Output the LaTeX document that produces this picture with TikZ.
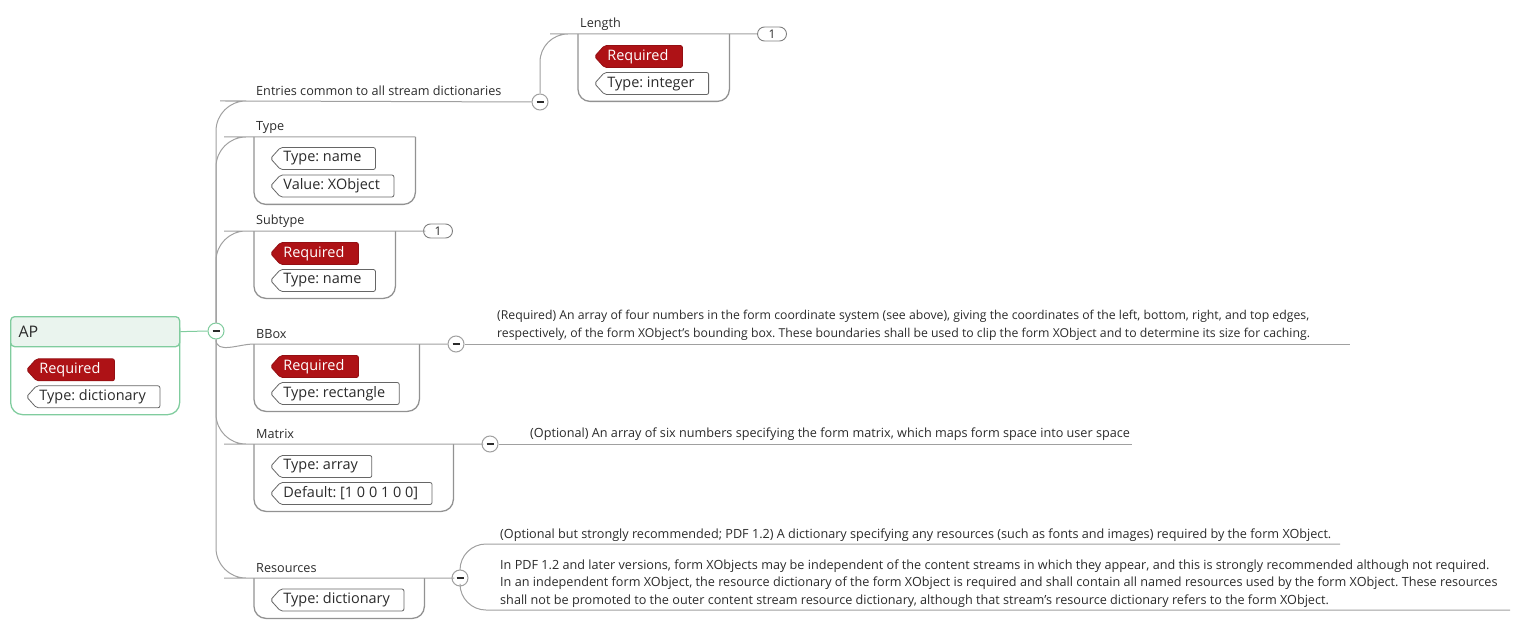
\documentclass[tikz,border=0pt]{standalone}
\usepackage{fontspec}
\setmainfont{Open Sans}
\usetikzlibrary{positioning, shapes.symbols}
\frenchspacing

\definecolor{linegray}{HTML}{A0A0A0}
\definecolor{boxgray}{HTML}{929292}
\definecolor{tagred}{HTML}{AE1216}
\definecolor{rootgreen}{HTML}{80CC9E}
\definecolor{headgreen}{HTML}{EAF4EE}
\definecolor{textgray}{HTML}{2B2B2B}

\tikzset{
  branch/.style={draw=linegray, line width=1bp},
  boxline/.style={draw=boxgray, line width=1.3bp},
  toggle/.style={circle, draw=linegray, fill=white, line width=1bp,
    minimum size=16bp, inner sep=0pt,
    path picture={\draw[textgray, line width=1.2bp]
      ([xshift=-3.5bp]path picture bounding box.center) --
      ([xshift=3.5bp]path picture bounding box.center);}},
  countpill/.style={draw=black!50, rounded corners=7bp, minimum width=29bp,
    minimum height=14bp, inner sep=0pt, line width=0.9bp, font=\fontsize{12}{13}\selectfont},
  fieldbox/.style={anchor=north west, inner sep=0pt},
  fieldlabel/.style={anchor=base west, inner sep=0pt},
  fieldtag/.style={signal, signal to=west, signal pointer angle=96, anchor=west,
    minimum height=22bp, inner xsep=3bp, inner ysep=0pt, rounded corners=2bp,
    draw=black!60, fill=white, line width=0.8bp, text=textgray,
    font=\fontsize{14.5}{16}\selectfont, execute at end node={\hspace{11bp}}},
  reqtag/.style={fieldtag, fill=tagred, draw=tagred!85!black, text=white},
  desc/.style={anchor=south west, inner sep=0pt, align=left},
}

\begin{document}
\begin{tikzpicture}[x=1bp, y=-1bp, font=\fontsize{12.7}{17.5}\selectfont, text=textgray]
  \useasboundingbox (0,0) rectangle (1517,641);

  % root
  \node[anchor=north west, minimum width=169bp, minimum height=98bp, inner sep=0pt,
        draw=rootgreen, line width=1.3bp, rounded corners=12bp] (apbox) at (10,316) {};
  \node[anchor=north west, minimum height=30bp, text width=153bp, inner xsep=8bp, inner ysep=0pt,
        draw=rootgreen, fill=headgreen, line width=1.3bp, rounded corners=4bp,
        font=\fontsize{16}{18}\selectfont] (ap) at (10,316) {AP};
  \node[reqtag] (apreq) at ([shift={(16,22.5)}]ap.south west) {Required};
  \node[fieldtag] (aptype) at ([shift={(16,49.5)}]ap.south west) {Type: dictionary};
  \node[toggle, draw=rootgreen] (aptog) at (216,331) {};
  \draw[draw=rootgreen, line width=1bp] (ap.east) -- (aptog.west);

  % field boxes
  \node[fieldbox, minimum width=151bp, minimum height=67bp] (lenbox) at (578,34) {};
  \node[fieldbox, minimum width=161bp, minimum height=67bp] (typebox) at (254,137) {};
  \node[fieldbox, minimum width=141bp, minimum height=67bp] (subbox) at (254,231) {};
  \node[fieldbox, minimum width=165bp, minimum height=67bp] (bboxbox) at (254,344) {};
  \node[fieldbox, minimum width=199bp, minimum height=67bp] (matbox) at (254,444) {};
  \node[fieldbox, minimum width=170bp, minimum height=40bp] (resbox) at (254,578) {};
  \foreach \b in {lenbox,typebox,subbox,bboxbox,matbox,resbox}
    \draw[boxline, rounded corners=12bp] (\b.north west) -- (\b.south west)
      -- (\b.south east) -- (\b.north east);

  \node[fieldlabel] (lenlabel) at ([shift={(2,-6.5)}]lenbox.north west) {Length};
  \node[fieldlabel] (typelabel) at ([shift={(2,-6)}]typebox.north west) {Type};
  \node[fieldlabel] (sublabel) at ([shift={(2,-6)}]subbox.north west) {Subtype};
  \node[fieldlabel] (bboxlabel) at ([shift={(2,-6)}]bboxbox.north west) {BBox};
  \node[fieldlabel] (matlabel) at ([shift={(2,-6)}]matbox.north west) {Matrix};
  \node[fieldlabel] (reslabel) at ([shift={(2,-6)}]resbox.north west) {Resources};

  % tags
  \node[reqtag] (lenreq) at ([shift={(16,22.5)}]lenbox.north west) {Required};
  \node[fieldtag] (lentype) at ([shift={(16,49.5)}]lenbox.north west) {Type: integer};
  \node[fieldtag] (typetype) at ([shift={(16,21.5)}]typebox.north west) {Type: name};
  \node[fieldtag] (typevalue) at ([shift={(16,49)}]typebox.north west) {Value: XObject};
  \node[reqtag] (subreq) at ([shift={(16,22.5)}]subbox.north west) {Required};
  \node[fieldtag] (subtype) at ([shift={(16,49.5)}]subbox.north west) {Type: name};
  \node[reqtag] (bboxreq) at ([shift={(16,22.5)}]bboxbox.north west) {Required};
  \node[fieldtag] (bboxtype) at ([shift={(16,49.5)}]bboxbox.north west) {Type: rectangle};
  \node[fieldtag] (mattype) at ([shift={(16,22.5)}]matbox.north west) {Type: array};
  \node[fieldtag] (matdefault) at ([shift={(16,49.5)}]matbox.north west) {Default: [1 0 0 1 0 0]};
  \node[fieldtag] (restype) at ([shift={(16,22)}]resbox.north west) {Type: dictionary};

  % toggles and counts
  \node[toggle] (commontog) at (540,102) {};
  \node[toggle] (bboxtog) at (456,344) {};
  \node[toggle] (mattog) at (490,444) {};
  \node[toggle] (restog) at (460,578) {};
  \node[countpill] (lenpill) at (772,34) {1};
  \node[countpill] (subpill) at (438,231) {1};

  % group label
  \coordinate (commonstart) at (250,101);
  \node[fieldlabel] (common) at ([shift={(6,-5)}]commonstart) {Entries common to all stream dictionaries};

  % descriptions
  \coordinate (bboxend) at (1350,344);
  \coordinate (matend) at (1132,444);
  \coordinate (resend1) at (1340,544);
  \coordinate (resend2) at (1510,610);
  \node[desc, font=\fontsize{12.3}{17.5}\selectfont] (bboxdesc) at (497,340.5) {(Required) An array of four numbers in the form coordinate system (see above), giving the coordinates of the left, bottom, right, and top edges,\\
    respectively, of the form XObject’s bounding box. These boundaries shall be used to clip the form XObject and to determine its size for caching.};
  \node[desc] (matdesc) at (530,441) {(Optional) An array of six numbers specifying the form matrix, which maps form space into user space};
  \node[desc] (resdesc1) at (500,541.5) {(Optional but strongly recommended; PDF 1.2) A dictionary specifying any resources (such as fonts and images) required by the form XObject.};
  \node[desc] (resdesc2) at (500,607.5) {In PDF 1.2 and later versions, form XObjects may be independent of the content streams in which they appear, and this is strongly recommended although not required.\\
    In an independent form XObject, the resource dictionary of the form XObject is required and shall contain all named resources used by the form XObject. These resources\\
    shall not be promoted to the outer content stream resource dictionary, although that stream’s resource dictionary refers to the form XObject.};

  % connectors
  \draw[branch, rounded corners=30bp] (aptog.north) |- (commonstart) -- (commontog.west);
  \draw[branch, rounded corners=28bp] (commontog.north) |- (lenbox.north west) -- (lenbox.north east) -- (lenpill.west);
  \draw[branch, rounded corners=30bp] (aptog.north) |- (typebox.north west) -- (typebox.north east);
  \draw[branch, rounded corners=30bp] (aptog.north) |- (subbox.north west) -- (subbox.north east) -- (subpill.west);
  \draw[branch] (aptog.south) to[out=-90, in=180] (bboxbox.north west) -- (bboxbox.north east) -- (bboxtog.west);
  \draw[branch, rounded corners=30bp] (aptog.south) |- (matbox.north west) -- (matbox.north east) -- (mattog.west);
  \draw[branch, rounded corners=30bp] (aptog.south) |- (resbox.north west) -- (resbox.north east) -- (restog.west);
  \draw[branch] (bboxtog.east) -- (bboxend);
  \draw[branch] (mattog.east) -- (matend);
  \draw[branch, rounded corners=26bp] (restog.north) |- (resend1);
  \draw[branch, rounded corners=26bp] (restog.south) |- (resend2);
\end{tikzpicture}
\end{document}
